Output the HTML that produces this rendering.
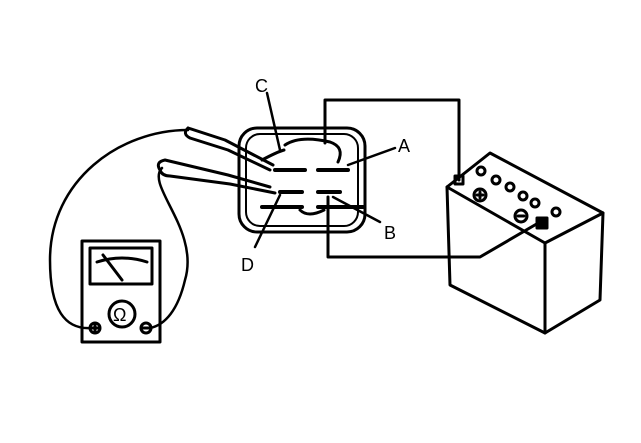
<!DOCTYPE html>
<html><head><style>body{margin:0;background:#fff}svg{display:block}text{font-family:"Liberation Sans",sans-serif;font-size:18px}</style></head>
<body><svg width="641" height="443" viewBox="0 0 641 443" fill="none" stroke="#000" stroke-width="3" stroke-linecap="round" stroke-linejoin="round">
<!-- connector -->
<rect x="239" y="128" width="126" height="104" rx="18"/>
<rect x="246" y="134" width="112" height="92" rx="14" stroke-width="2"/>
<path d="M285 145 q15 -10 45 -3 q15 5 8 20 M262 160 q15 -8 22 -10 M300 210 q8 8 24 0"/>
<path d="M275 170 h30 M318 170 h30 M280 192 h22 M318 192 h22 M262 207 h40 M318 207 h45" stroke-width="4"/>
<!-- wires to battery -->
<path d="M325 143 V100 H459 V180"/>
<path d="M328 197 V257 H480 L540 222"/>
<!-- battery -->
<path d="M447 187 L490 153 L603 213 L600 300 L545 333 L450 285 Z"/>
<path d="M447 187 L545 243 L603 213 M545 243 V333"/>
<circle cx="480" cy="195" r="6"/><path d="M477 195h6M480 192v6"/>
<circle cx="521" cy="216" r="6"/><path d="M518 216h6"/>
<circle cx="481" cy="171" r="4"/><circle cx="496" cy="180" r="4"/><circle cx="510" cy="187" r="4"/><circle cx="523" cy="196" r="4"/><circle cx="535" cy="203" r="4"/><circle cx="556" cy="212" r="4"/>
<rect x="537" y="218" width="10" height="10" fill="#000"/>
<rect x="455" y="176" width="8" height="8"/>
<!-- probes -->
<path d="M188 128 L225 140 L273 165 M188 128 q-6 6 2 10 L228 150 L270 170"/>
<path d="M160 170 q-5 -8 5 -10 L228 175 L270 187 M160 170 q2 6 10 6 L230 184 L275 193"/>
<!-- leads -->
<path d="M188 130 C120 130 50 180 50 260 C50 310 65 330 92 328" stroke-width="2.5"/>
<path d="M162 168 C145 185 200 230 185 280 C178 310 165 325 150 328" stroke-width="2.5"/>
<!-- meter -->
<rect x="82" y="241" width="78" height="101"/>
<rect x="90" y="248" width="62" height="36"/>
<path d="M97 262 q25 -8 50 0 M103 255 L122 280"/>
<circle cx="122" cy="314" r="13"/>
<text x="113" y="321" stroke="none" fill="#000" font-size="18">Ω</text>
<circle cx="95" cy="328" r="5"/><path d="M92 328h6M95 325v6"/>
<circle cx="146" cy="328" r="5"/><path d="M143 328h6"/>
<!-- labels -->
<path d="M267 93 L280 150 M395 148 L348 165 M380 222 L333 197 M255 247 L280 195" stroke-width="2.5"/>
<g stroke="none" fill="#000"><text x="255" y="92">C</text><text x="398" y="152">A</text><text x="384" y="239">B</text><text x="241" y="271">D</text></g>
</svg></body></html>
